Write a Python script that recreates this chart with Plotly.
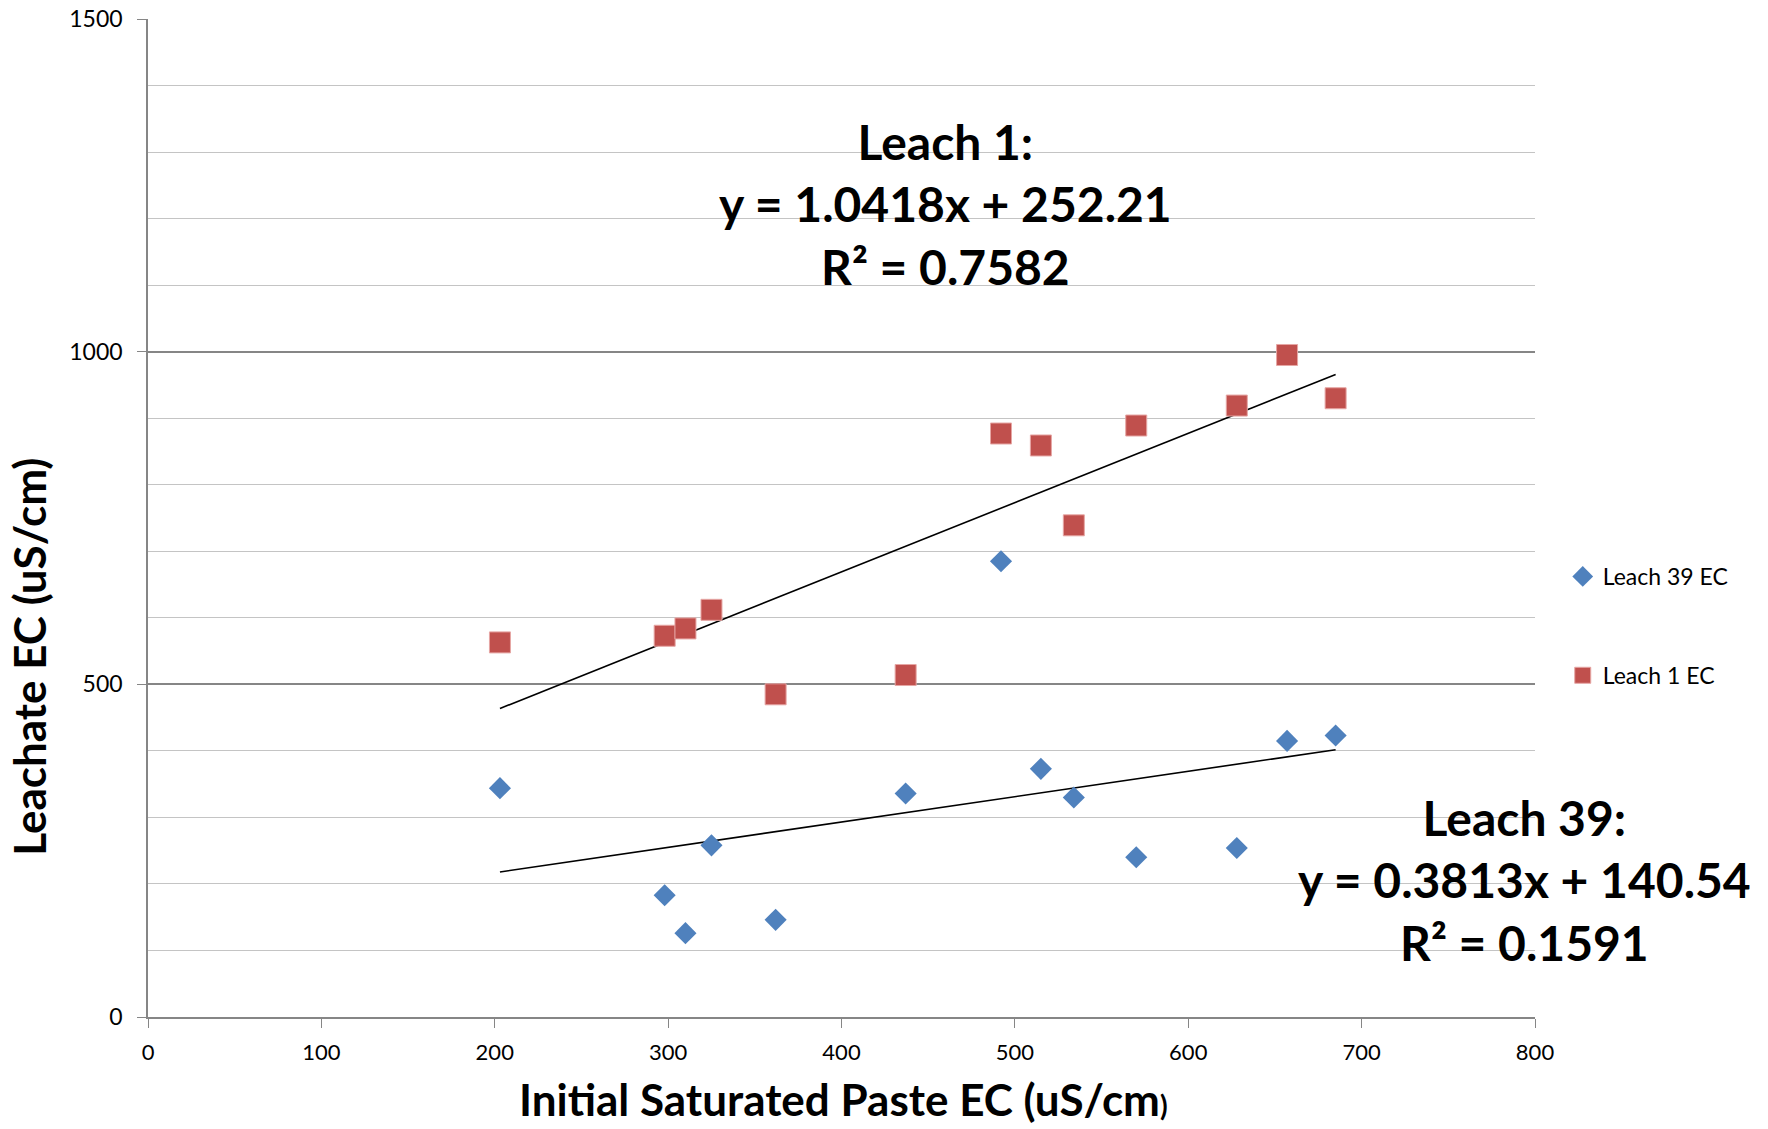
import plotly.graph_objects as go

# ---- data ----
initial_ec = [203, 298, 310, 325, 362, 437, 492, 515, 534, 570, 628, 657, 685]
leach1_ec = [563, 573, 584, 612, 485, 514, 877, 859, 739, 889, 919, 995, 930]
leach39_ec = [344, 183, 126, 258, 146, 336, 685, 373, 330, 240, 254, 415, 423]

leach1_slope, leach1_intercept, leach1_r2 = 1.0418, 252.21, 0.7582
leach39_slope, leach39_intercept, leach39_r2 = 0.3813, 140.54, 0.1591

x_ticks = [0, 100, 200, 300, 400, 500, 600, 700, 800]
y_ticks = [0, 500, 1000, 1500]

FONT = "Lato"
BLUE = "#4F81BD"
RED = "#C0504D"

xmin, xmax = min(initial_ec), max(initial_ec)

fig = go.Figure()

fig.add_trace(go.Scatter(
    x=[xmin, xmax],
    y=[leach1_slope * xmin + leach1_intercept, leach1_slope * xmax + leach1_intercept],
    mode="lines", line=dict(color="black", width=1.6), showlegend=False, hoverinfo="skip"))
fig.add_trace(go.Scatter(
    x=[xmin, xmax],
    y=[leach39_slope * xmin + leach39_intercept, leach39_slope * xmax + leach39_intercept],
    mode="lines", line=dict(color="black", width=1.6), showlegend=False, hoverinfo="skip"))

fig.add_trace(go.Scatter(
    x=initial_ec, y=leach39_ec, mode="markers", name="Leach 39 EC",
    legendgroup="a",
    marker=dict(symbol="diamond", size=17, color=BLUE, line=dict(width=0))))
fig.add_trace(go.Scatter(
    x=initial_ec, y=leach1_ec, mode="markers", name="Leach 1 EC",
    legendgroup="b",
    marker=dict(symbol="square", size=21, color=RED, line=dict(width=1, color="#E6A6A4"))))

fig.update_layout(
    width=1768, height=1129,
    margin=dict(l=148, r=233, t=19, b=112, autoexpand=False),
    paper_bgcolor="white", plot_bgcolor="white",
    font=dict(family=FONT, size=22, color="black"),
    showlegend=True,
    legend=dict(x=1.02, y=0.463, xanchor="left", yanchor="top",
                font=dict(size=23, family=FONT), tracegroupgap=66,
                itemsizing="trace", bgcolor="rgba(0,0,0,0)"),
    xaxis=dict(range=[0, 800], tickvals=x_ticks, ticktext=[str(v) for v in x_ticks],
               showgrid=False, zeroline=False, showline=True, linecolor="#868686",
               linewidth=1.5, ticks="outside", ticklen=9, tickcolor="#868686",
               ticklabelstandoff=6, automargin=False,
               tickfont=dict(size=22, family=FONT)),
    yaxis=dict(range=[0, 1500], tickvals=y_ticks, ticktext=[str(v) for v in y_ticks],
               showgrid=True, gridcolor="#868686", gridwidth=1.5, zeroline=False,
               showline=True, linecolor="#868686", linewidth=1.5,
               ticks="outside", ticklen=9, tickcolor="#868686",
               ticklabelstandoff=10, automargin=False,
               tickfont=dict(size=23, family=FONT),
               minor=dict(dtick=100, showgrid=True, gridcolor="#C4C4C4", gridwidth=1.2)),
)

# axis titles
fig.add_annotation(xref="paper", yref="paper", x=(843 - 148) / (1535 - 148), y=-0.082,
                   xanchor="center", yanchor="middle", showarrow=False,
                   text="<b>Initial Saturated Paste EC (uS/cm</b><span style='font-size:28px'><b>)</b></span>",
                   font=dict(size=44, family=FONT))
fig.add_annotation(xref="paper", yref="paper", x=-0.086, y=(1017 - 657) / (1017 - 19),
                   xanchor="center", yanchor="middle", showarrow=False, textangle=-90,
                   text="<b>Leachate EC (uS/cm)</b>", font=dict(size=44, family=FONT))

# equation labels
fig.add_annotation(xref="paper", yref="paper", x=(945 - 148) / (1535 - 148), y=(1017 - 204) / (1017 - 19),
                   xanchor="center", yanchor="middle", showarrow=False, align="center",
                   text=(f"<b>Leach 1:</b><br><b>y = {leach1_slope}x + {leach1_intercept}</b>"
                         f"<br><b>R² = {leach1_r2}</b>"),
                   font=dict(size=48, family=FONT))
fig.add_annotation(xref="paper", yref="paper", x=(1524 - 148) / (1535 - 148), y=(1017 - 880) / (1017 - 19),
                   xanchor="center", yanchor="middle", showarrow=False, align="center",
                   text=(f"<b>Leach 39:</b><br><b>y = {leach39_slope}x + {leach39_intercept}</b>"
                         f"<br><b>R² = {leach39_r2}</b>"),
                   font=dict(size=48, family=FONT))

fig.write_html("out.html")
